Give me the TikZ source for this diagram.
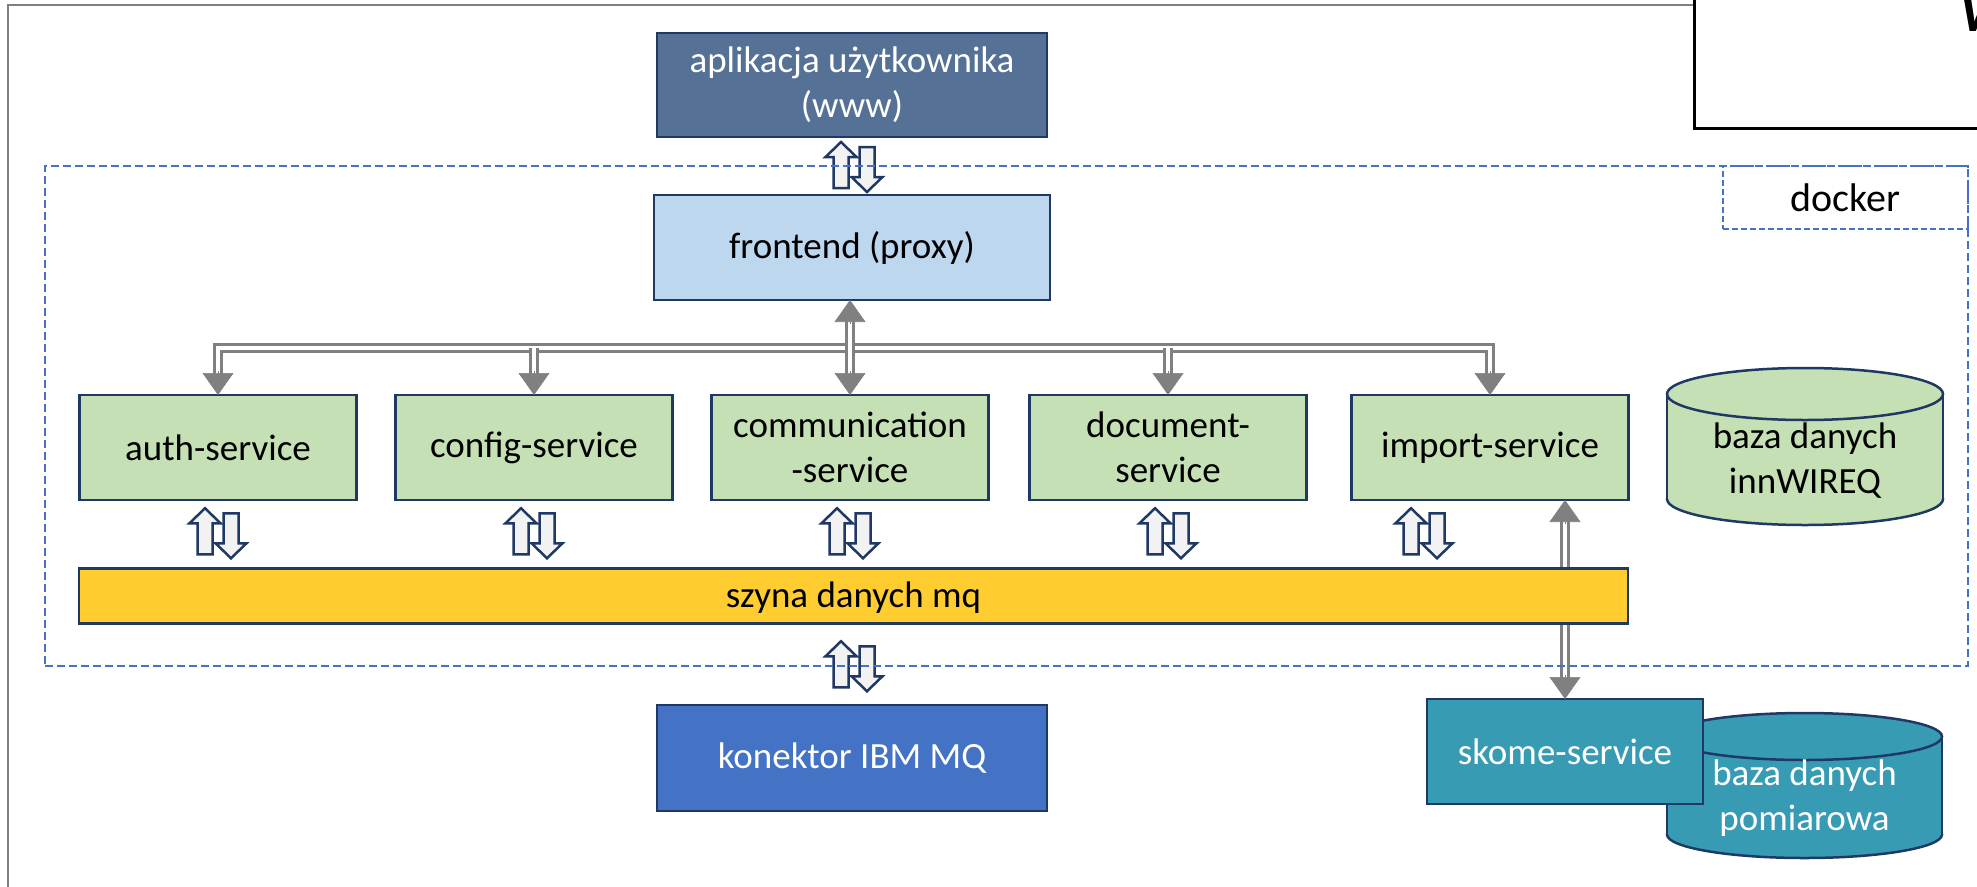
\documentclass[tikz,border=0pt]{standalone}
\usepackage{fontspec}
\setmainfont{Carlito}
\usetikzlibrary{calc,arrows.meta}
\definecolor{navy}{HTML}{1F3864}
\definecolor{appblue}{HTML}{557296}
\definecolor{frontblue}{HTML}{BDD7EE}
\definecolor{svcgreen}{HTML}{C5E0B4}
\definecolor{busgold}{HTML}{FFCD2F}
\definecolor{konblue}{HTML}{4472C4}
\definecolor{tealb}{HTML}{389BB4}
\definecolor{agray}{HTML}{808080}
\definecolor{dockblue}{HTML}{4472C4}
\definecolor{blkfill}{HTML}{F2F2F2}
\newcommand\dbshape[5]{%
  \filldraw[fill=#5, draw=navy, line width=2.5pt] ($(#1)+(0,#3)$) ellipse [x radius=#2pt, y radius=#4pt];
  \fill[#5] ($(#1)+(-#2,-#3)$) rectangle ($(#1)+(#2,#3)$);
  \draw[navy, line width=2.5pt] ($(#1)+(-#2,-#3)$) -- ($(#1)+(-#2,#3)$) ($(#1)+(#2,-#3)$) -- ($(#1)+(#2,#3)$);
  \filldraw[fill=#5, draw=navy, line width=2.5pt] ($(#1)+(0,-#3)$) ellipse [x radius=#2pt, y radius=#4pt];
}
\tikzset{
  box/.style={draw=navy, line width=2.5pt, inner sep=0pt, outer sep=0pt, align=center,
    font=\fontsize{37}{45}\selectfont},
  svc/.style={box, fill=svcgreen, minimum width=277pt, minimum height=105pt},
  dbtext/.style={inner sep=0pt, align=center, font=\fontsize{37}{45}\selectfont},
  blk/.style={draw=navy, line width=2.5pt, fill=blkfill, line join=miter},
  dbl/.style={draw=agray, line width=3.3pt, double=white, double distance=3.4pt},
  gtip/.style={draw=agray, line width=0.6pt, -{Triangle[length=22pt,width=31pt]}},
  dockline/.style={draw=dockblue, line width=2.5pt, dash pattern=on 8pt off 4pt},
  updown/.pic={
    \draw[blk] (-20.5,21) -- (-20.5,-10) -- (-28.5,-10) -- (-13,-25) -- (2.5,-10) -- (-5.5,-10) -- (-5.5,21) -- cycle;
    \draw[blk] (5.5,-20) -- (5.5,10) -- (-2.5,10) -- (13,25) -- (28.5,10) -- (20.5,10) -- (20.5,-20) -- cycle;
  }
}
\begin{document}
\begin{tikzpicture}[x=1pt,y=-1pt]
\useasboundingbox (0,0) rectangle (1977,886);
\clip (0,0) rectangle (1977,886);
% outer frame and title box
\draw[agray!99!black, line width=2.5pt] (8,900) -- (8,5) -- (1694,5);
\node[draw=black, line width=3pt, minimum width=400pt, minimum height=200pt, anchor=south west, inner sep=0pt, outer sep=0pt] (title) at (1694,128) {};
\node[anchor=base west, inner sep=0pt, font=\fontsize{56}{60}\selectfont\bfseries\itshape] (wt) at (1960,31) {W};
% main boxes
\node[box, fill=appblue, text=white, minimum width=390pt, minimum height=104pt] (app) at (852,85) {aplikacja użytkownika\\(www)};
\node[box, fill=frontblue, minimum width=396pt, minimum height=105pt] (front) at (852,247.5) {frontend (proxy)};
\node[svc] (auth) at (218,447.5) {auth-service};
\node[svc] (cfg) at (534,447.5) {config-service};
\node[svc] (comm) at (850,447.5) {communication\\-service};
\node[svc] (doc) at (1168,447.5) {document-\\service};
\node[svc] (imp) at (1490,447.5) {import-service};
% databases
\coordinate (db1c) at (1805,446.5);
\dbshape{db1c}{138}{52.5}{26}{svcgreen}
\node[dbtext] (db1) at (1805,461) {baza danych\\innWIREQ};
\coordinate (db2c) at (1804.5,785.5);
\dbshape{db2c}{137.5}{49}{23.5}{tealb}
\node[dbtext, text=white] (db2) at (1804.5,798.5) {baza danych\\pomiarowa};
\node[box, fill=tealb, text=white, minimum width=276pt, minimum height=105pt] (skome) at (1565,751.5) {skome-service};
% gray tree from frontend
\coordinate (hy) at ($(auth.north)+(0,-47)$);
\draw[dbl] ($(auth.north)+(0,-21)$) |- (hy -| imp.north) -- ($(imp.north)+(0,-21)$);
\draw[dbl] (hy -| cfg.north) -- ($(cfg.north)+(0,-21)$);
\draw[dbl] (hy -| doc.north) -- ($(doc.north)+(0,-21)$);
\draw[dbl] ($(comm.north |- front.south)+(0,21)$) -- ($(comm.north)+(0,-21)$);
\foreach \n in {auth,cfg,comm,doc,imp} \draw[gtip] ($(\n.north)+(0,-24)$) -- (\n.north);
\draw[gtip] ($(comm.north |- front.south)+(0,24)$) -- (comm.north |- front.south);
% import <-> skome
\draw[dbl] ($(skome.north |- imp.south)+(0,21)$) -- ($(skome.north)+(0,-21)$);
\draw[gtip] ($(skome.north |- imp.south)+(0,24)$) -- (skome.north |- imp.south);
\draw[gtip] ($(skome.north)+(0,-24)$) -- (skome.north);
% bus and connector
\node[box, fill=busgold, minimum width=1549pt, minimum height=55pt, text depth=2pt] (bar) at (853.5,596) {szyna danych mq};
\node[box, fill=konblue, text=white, minimum width=390pt, minimum height=106pt] (kon) at (852,758) {konektor IBM MQ};
% block arrows
\pic at ($(app.south)!.5!(front.north)+(2,1)$) {updown};
\foreach \n in {auth,cfg,comm,doc} \pic at ($(\n.south)!.5!(\n.south |- bar.north)+(0,-1)$) {updown};
\pic at ($(imp.south)!.5!(imp.south |- bar.north)+(-66,-1)$) {updown};
\pic at ($(bar.south -| kon.north)!.5!(kon.north)+(2,2)$) {updown};
% docker frame
\node[dockline, minimum width=1923pt, minimum height=500pt, inner sep=0pt, outer sep=0pt] (docker) at (1006.5,416) {};
\node[draw=dockblue, line width=2pt, dash pattern=on 6pt off 3pt, anchor=north east, minimum width=245pt, minimum height=63pt, inner sep=0pt, outer sep=0pt, font=\fontsize{40}{48}\selectfont] (dlabel) at (docker.north east) {docker};
\end{tikzpicture}
\end{document}
